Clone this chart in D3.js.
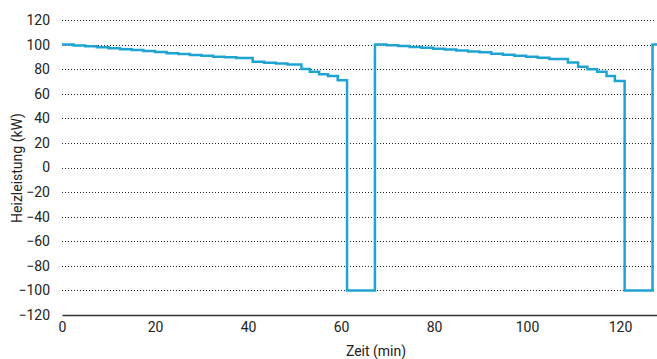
<!DOCTYPE html>
<html lang="de">
<head>
<meta charset="UTF-8">
<title>Heizleistung</title>
<script src="https://cdnjs.cloudflare.com/ajax/libs/d3/7.8.5/d3.min.js"></script>
<style>
  * { margin: 0; padding: 0; }
  body { background: #fff; }
  .grid line { stroke: #222; stroke-width: 1; stroke-dasharray: 1, 2; }
  text { fill: #222; font-family: Roboto, "DejaVu Sans", sans-serif; font-size: 14px; font-weight: 400; }
</style>
</head>
<body>
<svg id="chart" width="657" height="359"></svg>
<script>
// Zeitpunkte (min), ab denen die jeweilige Leistung gilt (Treppenverlauf)
const zeit = [
  0, 2.5, 5, 7.5, 10, 12.5, 15, 17.5, 20, 22.5, 25, 27.5, 30, 32.5, 35, 37.5,
  41, 43.5, 46, 48.5, 51.5, 53.3, 55.3, 57.2, 59.3, 61.3,
  67.3, 69.8, 72.3, 74.8, 77.3, 79.8, 82.3, 84.8, 87.3, 89.8, 92.3, 94.8, 97.3,
  99.8, 102.3, 104.8, 108.8, 111, 113, 115.1, 117.1, 118.9, 121, 127, 128
];
// Heizleistung (kW)
const leistung = [
  100, 99.3, 98.6, 97.8, 97, 96.3, 95.5, 94.8, 94, 93, 92.3, 91.6, 90.9, 90.2, 89.6, 89,
  86, 85.3, 84.6, 83.8, 80.2, 77.8, 75.8, 74.4, 71, -100,
  100, 99.4, 98.8, 98.1, 97.4, 96.7, 96, 95.2, 94.4, 93.8, 92.6, 91.8, 91,
  90.2, 89.3, 88.3, 85.5, 81.9, 80, 77.9, 74.4, 70.3, -100, 100, 100
];
const yTicks = [-120, -100, -80, -60, -40, -20, 0, 20, 40, 60, 80, 100, 120];
const xTicks = [0, 20, 40, 60, 80, 100, 120];

const data = zeit.map((t, i) => ({ t: t, p: leistung[i] }));

const svg = d3.select("#chart");
const mLeft = 62, mRight = 657.2, mTop = 20, mBottom = 315;

const x = d3.scaleLinear().domain([0, 128]).range([mLeft, mRight]);
const y = d3.scaleLinear().domain([-120, 120]).range([mBottom, mTop]);

// gepunktete Gitterlinien
svg.append("g").attr("class", "grid")
  .selectAll("line")
  .data(yTicks.filter(d => d > -120))
  .join("line")
  .attr("x1", mLeft).attr("x2", 656)
  .attr("y1", d => Math.round(y(d)) + 0.5)
  .attr("y2", d => Math.round(y(d)) + 0.5);

// y-Achse (nur Beschriftungen)
const yAxis = svg.append("g")
  .attr("transform", `translate(${mLeft},0)`)
  .call(d3.axisLeft(y).tickValues(yTicks).tickSize(0).tickPadding(12));
yAxis.select(".domain").remove();
yAxis.selectAll("text").attr("font-family", null).attr("font-size", null);

// x-Achse
const xAxis = svg.append("g")
  .attr("transform", `translate(0,${mBottom})`)
  .call(d3.axisBottom(x).tickValues(xTicks).tickSize(0).tickPadding(7));
xAxis.select(".domain").attr("stroke", "#333").attr("stroke-width", 1.5);
xAxis.selectAll("text").attr("font-family", null).attr("font-size", null);

// Leistungsverlauf
const line = d3.line()
  .x(d => x(d.t))
  .y(d => y(d.p))
  .curve(d3.curveStepAfter);

svg.append("path")
  .datum(data)
  .attr("fill", "none")
  .attr("stroke", "#1fa3d3")
  .attr("stroke-width", 2.5)
  .attr("d", line);

// Achsentitel
svg.append("text")
  .attr("x", 376).attr("y", 356)
  .attr("text-anchor", "middle")
  .text("Zeit (min)");

svg.append("text")
  .attr("transform", "translate(22,168) rotate(-90)")
  .attr("text-anchor", "middle")
  .text("Heizleistung (kW)");
</script>
</body>
</html>
